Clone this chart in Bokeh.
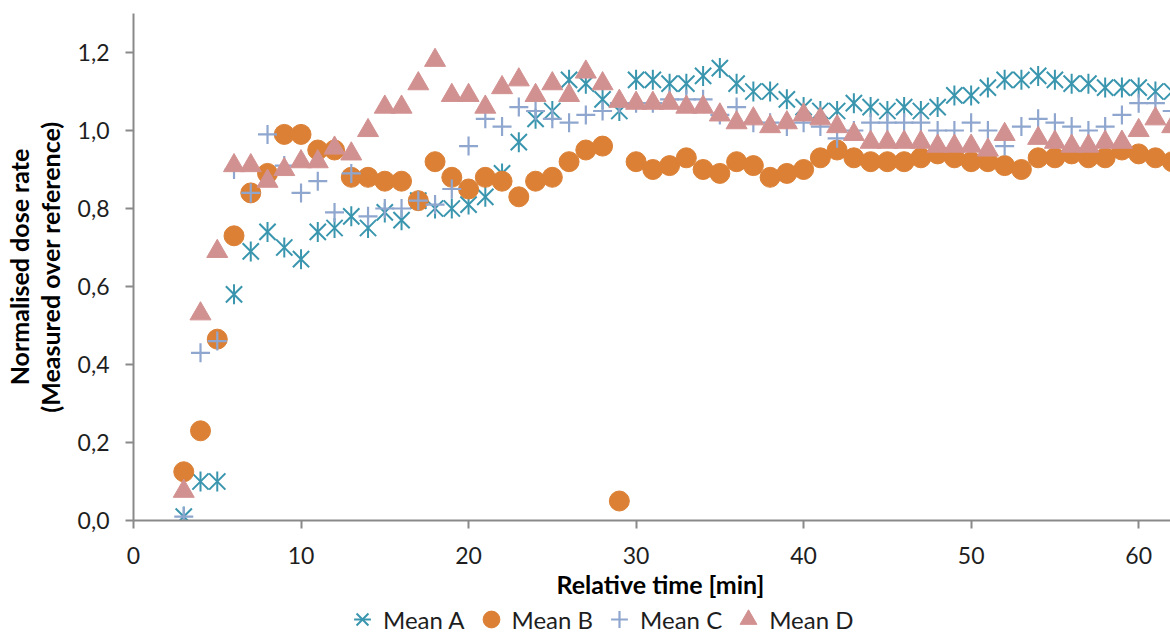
import math
from bokeh.plotting import figure
from bokeh.layouts import column
from bokeh.models import (Legend, LegendItem, Range1d, CustomJSTickFormatter,
                          FixedTicker, ColumnDataSource, Title)
from bokeh.embed import file_html
from bokeh.resources import INLINE

nan = float("nan")

time_min = list(range(3, 63))

mean_a = [0.01, 0.10, 0.10, 0.58, 0.69, 0.74, 0.70, 0.67, 0.74, 0.75,
          0.78, 0.75, 0.79, 0.77, 0.82, 0.80, 0.80, 0.81, 0.83, 0.89,
          0.97, 1.03, 1.05, 1.13, 1.12, 1.08, 1.05, 1.13, 1.13, 1.12,
          1.12, 1.14, 1.16, 1.12, 1.10, 1.10, 1.08, 1.06, 1.05, 1.05,
          1.07, 1.06, 1.05, 1.06, 1.05, 1.06, 1.09, 1.09, 1.11, 1.13,
          1.13, 1.14, 1.13, 1.12, 1.12, 1.11, 1.11, 1.11, 1.10, 1.10]

mean_b = [0.125, 0.23, 0.465, 0.73, 0.84, 0.89, 0.99, 0.99, 0.95, 0.95,
          0.88, 0.88, 0.87, 0.87, 0.82, 0.92, 0.88, 0.85, 0.88, 0.87,
          0.83, 0.87, 0.88, 0.92, 0.95, 0.96, 0.05, 0.92, 0.90, 0.91,
          0.93, 0.90, 0.89, 0.92, 0.91, 0.88, 0.89, 0.90, 0.93, 0.95,
          0.93, 0.92, 0.92, 0.92, 0.93, 0.94, 0.93, 0.92, 0.92, 0.91,
          0.90, 0.93, 0.93, 0.94, 0.93, 0.93, 0.95, 0.94, 0.93, 0.92]

mean_c = [0.01, 0.43, 0.46, 0.90, 0.84, 0.99, 0.91, 0.84, 0.87, 0.79,
          0.89, 0.78, 0.80, 0.80, 0.82, 0.81, 0.85, 0.96, 1.03, 1.01,
          1.06, 1.05, 1.03, 1.02, 1.04, 1.05, 1.07, 1.07, 1.07, 1.08,
          1.08, 1.08, 1.04, 1.06, 1.02, 1.02, 1.01, 1.02, 1.01, 0.98,
          1.00, 1.02, 1.02, 1.02, 1.02, 1.00, 1.00, 1.02, 1.00, 0.96,
          1.01, 1.03, 1.02, 1.01, 1.00, 1.01, 1.04, 1.07, 1.07, 1.05]

mean_d = [0.075, 0.53, 0.69, 0.91, 0.91, 0.87, 0.90, 0.92, 0.92, 0.955,
          0.94, 1.00, 1.06, 1.06, 1.12, 1.18, 1.09, 1.09, 1.06, 1.11,
          1.13, 1.09, 1.12, 1.09, 1.15, 1.12, 1.075, 1.07, 1.07, 1.07,
          1.06, 1.06, 1.04, 1.02, 1.03, 1.01, 1.02, 1.04, 1.03, 1.01,
          0.99, 0.97, 0.97, 0.97, 0.97, 0.96, 0.96, 0.96, 0.95, 0.99,
          nan, 0.98, 0.97, 0.96, 0.96, 0.97, 0.97, 1.00, 1.03, 1.01]

series_names = ["Mean A", "Mean B", "Mean C", "Mean D"]
x_ticks = [0, 10, 20, 30, 40, 50, 60]
y_ticks = [0.0, 0.2, 0.4, 0.6, 0.8, 1.0, 1.2]
x_title = "Relative time [min]"
y_title = "Normalised dose rate\n(Measured over reference)"

FONT = "Lato"
TXT = "#1e1e1e"
COL_A = "#3A96AE"
COL_B = "#DB8035"
COL_C = "#8FA6CF"
COL_D = "#D29191"

STY_A1 = dict(marker="x", line_color=COL_A, line_width=2)
STY_A2 = dict(marker="dash", angle=math.pi / 2, line_color=COL_A, line_width=2)
STY_B = dict(marker="circle", fill_color=COL_B, line_color=COL_B, line_width=1)
STY_C = dict(marker="cross", line_color=COL_C, line_width=2.2)
STY_D = dict(marker="triangle", fill_color=COL_D, line_color=COL_D, line_width=1)

# ---------------- main chart ----------------
p = figure(width=1170, height=606, output_backend="svg", toolbar_location=None,
           x_range=Range1d(0, 61.9), y_range=Range1d(0, 1.3),
           min_border_left=133, min_border_right=0, min_border_top=13,
           min_border_bottom=86)
p.outline_line_color = None
p.xgrid.visible = False
p.ygrid.visible = False
p.background_fill_color = "white"
p.border_fill_color = "white"

src = ColumnDataSource(dict(t=time_min, a=mean_a, b=mean_b, c=mean_c, d=mean_d))

p.scatter("t", "a", source=src, size=23, **STY_A1)
p.scatter("t", "a", source=src, size=20, **STY_A2)
p.scatter("t", "b", source=src, size=20, **STY_B)
p.scatter("t", "c", source=src, size=19, **STY_C)
p.scatter("t", "d", source=src, size=21, **STY_D)

for ax in (p.xaxis[0], p.yaxis[0]):
    ax.axis_line_color = "#898989"
    ax.axis_line_width = 2
    ax.major_tick_line_color = "#898989"
    ax.major_tick_line_width = 2
    ax.major_tick_in = 0
    ax.major_tick_out = 8
    ax.minor_tick_line_color = None
    ax.major_label_text_font = FONT
    ax.major_label_text_font_size = "23px"
    ax.major_label_text_color = TXT
    ax.axis_label_text_font = FONT
    ax.axis_label_text_font_size = "25px"
    ax.axis_label_text_font_style = "bold"
    ax.axis_label_text_color = "#000000"

p.xaxis.ticker = FixedTicker(ticks=x_ticks)
p.yaxis.ticker = FixedTicker(ticks=y_ticks)
p.yaxis.formatter = CustomJSTickFormatter(code="return tick.toFixed(1).replace('.', ',');")
p.yaxis.axis_label = y_title
p.yaxis.axis_label_text_line_height = 1.02
p.xaxis.major_label_standoff = 18
p.yaxis.major_label_standoff = 16
p.yaxis.axis_label_standoff = 10

# x-axis title (placed like Excel's, slightly right of the frame centre)
xt = Title(text=x_title, align="left", offset=423, standoff=0,
           text_font=FONT, text_font_size="25px", text_font_style="bold",
           text_color="#000000")
p.add_layout(xt, "below")

# ---------------- legend strip ----------------
pl = figure(width=1170, height=27, output_backend="svg", toolbar_location=None,
            x_range=Range1d(0, 1), y_range=Range1d(0, 1),
            x_axis_type=None, y_axis_type=None,
            min_border_left=0, min_border_right=0, min_border_top=0,
            min_border_bottom=0)
pl.outline_line_color = None
pl.xgrid.visible = False
pl.ygrid.visible = False
pl.background_fill_color = "white"
pl.border_fill_color = "white"

key = ColumnDataSource(dict(x=[nan], y=[nan]))
la1 = pl.scatter("x", "y", source=key, size=23, **STY_A1)
la2 = pl.scatter("x", "y", source=key, size=20, **STY_A2)
lb = pl.scatter("x", "y", source=key, size=20, **STY_B)
lc = pl.scatter("x", "y", source=key, size=19, **STY_C)
ld = pl.scatter("x", "y", source=key, size=21, **STY_D)

legend = Legend(items=[LegendItem(label=series_names[0], renderers=[la1, la2]),
                       LegendItem(label=series_names[1], renderers=[lb]),
                       LegendItem(label=series_names[2], renderers=[lc]),
                       LegendItem(label=series_names[3], renderers=[ld])],
                orientation="horizontal", location=(208, -7))
legend.glyph_width = 42
legend.glyph_height = 42
legend.label_standoff = -7
legend.spacing = 5
legend.padding = 0
legend.margin = 0
legend.border_line_color = None
legend.background_fill_alpha = 0
legend.label_text_font = FONT
legend.label_text_font_size = "24px"
legend.label_text_color = TXT
pl.add_layout(legend)

layout = column(p, pl, spacing=0)

open("out.html", "w").write(file_html(layout, INLINE))
